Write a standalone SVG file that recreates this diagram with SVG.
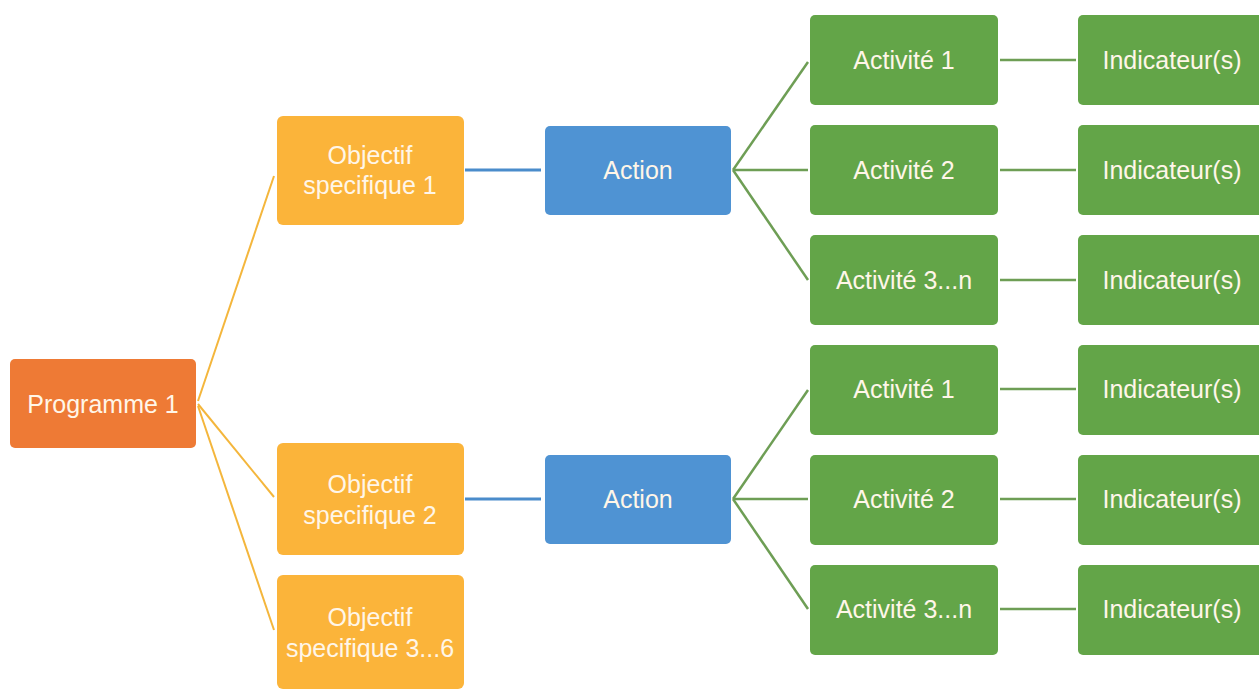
<svg xmlns="http://www.w3.org/2000/svg" width="1259" height="690" viewBox="0 0 1259 690">
<style>
.t{font-family:"Liberation Sans",Arial,sans-serif;font-size:25px;fill:#FFF6E8;text-anchor:middle;dominant-baseline:central}
.prog{fill:#EE7A35}
.obj{fill:#FBB43A}
.act{fill:#4F93D3}
.acv{fill:#63A548}
.co{stroke:#F4B63C;stroke-width:2;fill:none}
.cb{stroke:#4A8CCB;stroke-width:3;fill:none}
.cg{stroke:#6E9E55;stroke-width:2.5;fill:none}
</style>
<rect width="1259" height="690" fill="#FFFFFF"/>
<g id="connectors">
<line class="co" x1="198" y1="401" x2="274" y2="176"/>
<line class="co" x1="198" y1="404" x2="274" y2="497"/>
<line class="co" x1="198" y1="406" x2="274" y2="630"/>
<line class="cb" x1="465" y1="170" x2="541" y2="170"/>
<line class="cb" x1="465" y1="499" x2="541" y2="499"/>
<line class="cg" x1="733" y1="170" x2="808" y2="62"/>
<line class="cg" x1="733" y1="170" x2="808" y2="170"/>
<line class="cg" x1="733" y1="170" x2="808" y2="280"/>
<line class="cg" x1="733" y1="499" x2="808" y2="390"/>
<line class="cg" x1="733" y1="499" x2="808" y2="499"/>
<line class="cg" x1="733" y1="499" x2="808" y2="609"/>
<line class="cg" x1="1000" y1="60" x2="1076" y2="60"/>
<line class="cg" x1="1000" y1="170" x2="1076" y2="170"/>
<line class="cg" x1="1000" y1="280" x2="1076" y2="280"/>
<line class="cg" x1="1000" y1="389" x2="1076" y2="389"/>
<line class="cg" x1="1000" y1="499" x2="1076" y2="499"/>
<line class="cg" x1="1000" y1="609" x2="1076" y2="609"/>
</g>
<g id="programme1"><rect class="prog" x="10" y="359" width="186" height="89" rx="5"/><text class="t" x="103" y="404">Programme 1</text></g>
<g id="objectif1"><rect class="obj" x="277" y="116" width="187" height="109" rx="6"/><text class="t" x="370" y="155">Objectif</text><text class="t" x="370" y="185">specifique 1</text></g>
<g id="objectif2"><rect class="obj" x="277" y="443" width="187" height="112" rx="6"/><text class="t" x="370" y="484">Objectif</text><text class="t" x="370" y="515">specifique 2</text></g>
<g id="objectif3"><rect class="obj" x="277" y="575" width="187" height="114" rx="6"/><text class="t" x="370" y="617">Objectif</text><text class="t" x="370" y="648">specifique 3...6</text></g>
<g id="action1"><rect class="act" x="545" y="126" width="186" height="89" rx="5"/><text class="t" x="638" y="170">Action</text></g>
<g id="action2"><rect class="act" x="545" y="455" width="186" height="89" rx="5"/><text class="t" x="638" y="499">Action</text></g>
<g id="activite1a"><rect class="acv" x="810" y="15" width="188" height="90" rx="5"/><text class="t" x="904" y="60">Activité 1</text></g>
<g id="activite2a"><rect class="acv" x="810" y="125" width="188" height="90" rx="5"/><text class="t" x="904" y="170">Activité 2</text></g>
<g id="activite3a"><rect class="acv" x="810" y="235" width="188" height="90" rx="5"/><text class="t" x="904" y="280">Activité 3...n</text></g>
<g id="activite1b"><rect class="acv" x="810" y="345" width="188" height="90" rx="5"/><text class="t" x="904" y="389">Activité 1</text></g>
<g id="activite2b"><rect class="acv" x="810" y="455" width="188" height="90" rx="5"/><text class="t" x="904" y="499">Activité 2</text></g>
<g id="activite3b"><rect class="acv" x="810" y="565" width="188" height="90" rx="5"/><text class="t" x="904" y="609">Activité 3...n</text></g>
<g id="indicateur1a"><rect class="acv" x="1078" y="15" width="190" height="90" rx="5"/><text class="t" x="1172" y="60">Indicateur(s)</text></g>
<g id="indicateur2a"><rect class="acv" x="1078" y="125" width="190" height="90" rx="5"/><text class="t" x="1172" y="170">Indicateur(s)</text></g>
<g id="indicateur3a"><rect class="acv" x="1078" y="235" width="190" height="90" rx="5"/><text class="t" x="1172" y="280">Indicateur(s)</text></g>
<g id="indicateur1b"><rect class="acv" x="1078" y="345" width="190" height="90" rx="5"/><text class="t" x="1172" y="389">Indicateur(s)</text></g>
<g id="indicateur2b"><rect class="acv" x="1078" y="455" width="190" height="90" rx="5"/><text class="t" x="1172" y="499">Indicateur(s)</text></g>
<g id="indicateur3b"><rect class="acv" x="1078" y="565" width="190" height="90" rx="5"/><text class="t" x="1172" y="609">Indicateur(s)</text></g>
</svg>
